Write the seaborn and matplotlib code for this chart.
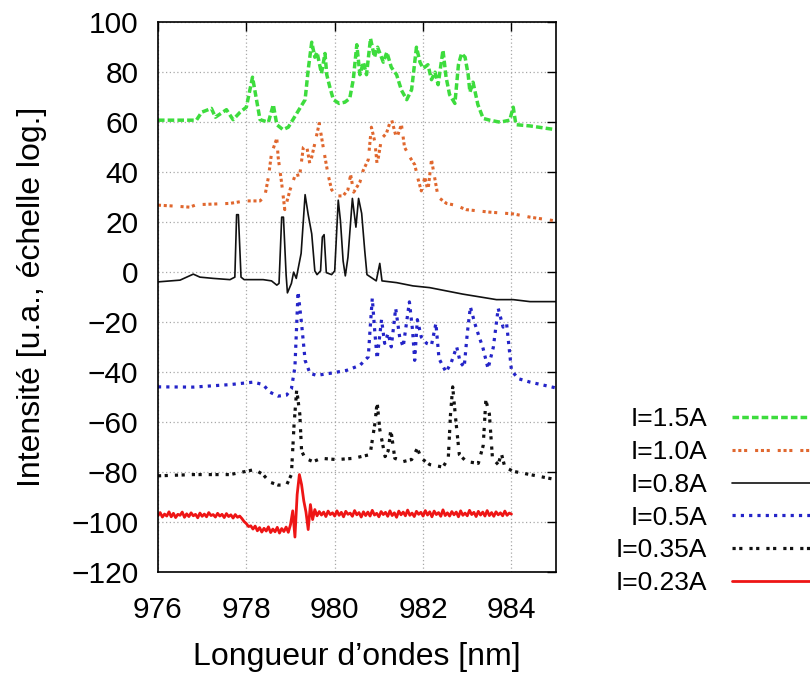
import numpy as np
import matplotlib
matplotlib.use("Agg")
import matplotlib.pyplot as plt
import seaborn as sns

# ---------------- data ----------------
labels = ["I=1.5A", "I=1.0A", "I=0.8A", "I=0.5A", "I=0.35A", "I=0.23A"]

green_x = [976.0, 976.87, 976.99, 977.21, 977.3, 977.55, 977.7, 977.86, 978.0, 978.14,
           978.22, 978.31, 978.5, 978.61, 978.69, 978.83, 978.95, 979.14, 979.33, 979.4,
           979.48, 979.55, 979.6, 979.7, 979.78, 979.82, 979.89, 979.97, 980.1, 980.23,
           980.34, 980.42, 980.5, 980.57, 980.65, 980.72, 980.81, 980.9, 980.97, 981.1,
           981.18, 981.28, 981.4, 981.51, 981.63, 981.74, 981.85, 981.93, 982.0, 982.11,
           982.19, 982.27, 982.34, 982.45, 982.52, 982.6, 982.72, 982.8, 982.87, 982.95,
           983.02, 983.06, 983.13, 983.24, 983.36, 983.51, 983.74, 983.96, 984.04, 984.1,
           984.42, 985.0]
green_y = [60.8, 60.8, 64, 65.5, 62, 65, 61, 64, 66, 78,
           70, 61, 60, 67, 59, 57, 58, 63.5, 69, 81,
           92, 86, 88, 79.5, 87.5, 79, 74, 69, 67.5, 68,
           69.5, 77, 91, 79, 84, 79, 93.5, 86, 90, 84,
           88, 82, 79, 72.8, 69, 73, 90, 84, 81.5, 83,
           77, 80, 75, 88.8, 78, 71, 67.5, 83, 87.5, 86,
           79, 72, 76, 67, 61.5, 60.8, 60, 60.8, 66, 59,
           58.5, 57]

orange_x = [976.0, 976.3, 976.72, 976.87, 977.2, 977.63, 977.97, 978.31, 978.42, 978.5,
            978.57, 978.69, 978.72, 978.8, 978.87, 978.99, 979.1, 979.21, 979.29, 979.36,
            979.44, 979.55, 979.65, 979.74, 979.85, 979.93, 980.04, 980.19, 980.3, 980.36,
            980.43, 980.57, 980.64, 980.76, 980.83, 980.91, 980.96, 981.06, 981.17, 981.28,
            981.4, 981.51, 981.58, 981.7, 981.81, 981.89, 981.96, 982.04, 982.11, 982.19,
            982.27, 982.34, 982.53, 982.72, 982.98, 983.51, 984.04, 984.42, 985.0]
orange_y = [26.8, 26.5, 26, 27, 27.2, 27.5, 28.5, 28.5, 30.5, 38,
            47.5, 53.5, 46, 35.5, 25, 33, 38.5, 39, 50, 51,
            43, 51.5, 59.5, 50, 39, 33, 30.5, 30.5, 33, 39,
            32, 36, 40.5, 45, 58, 52, 43, 53.5, 55.5, 61.5,
            53.5, 59, 50, 46, 43, 37, 32.5, 38, 32.5, 45,
            37, 30, 27.5, 26.8, 25, 24, 23.3, 22, 20.5]

black_x = [976.0, 976.5, 976.8, 976.95, 977.25, 977.63, 977.74, 977.78, 977.82, 977.88,
           977.95, 978.38, 978.57, 978.69, 978.74, 978.8, 978.84, 978.9, 978.93, 979.02,
           979.07, 979.13, 979.24, 979.33, 979.4, 979.48, 979.55, 979.6, 979.68, 979.72,
           979.76, 979.81, 979.93, 980.0, 980.08, 980.13, 980.19, 980.24, 980.3, 980.4,
           980.48, 980.54, 980.61, 980.68, 980.73, 980.94, 981.02, 981.07, 981.4, 981.77,
           982.15, 982.9, 983.66, 984.04, 984.42, 985.0]
black_y = [-3.9, -3.2, -0.8, -2, -2.5, -3, -2, 23, 23, -2,
           -3, -3, -3.5, -5.2, -4.5, 22, 22, -1, -8.3, -4.5,
           0, -2.5, 7.5, 31, 23, 15.3, 0.5, -1, 0.5, 14,
           15, -0.2, -1, 0.5, 28.8, 20.5, 4.5, -1.5, 6, 29.5,
           18, 29.5, 23.5, 8.5, -1, -3.5, 3.5, -3.5, -4.2, -5.5,
           -6.2, -8.8, -11, -11, -11.8, -11.8]

blue_x = [976.0, 976.8, 977.63, 978.16, 978.38, 978.53, 978.72, 978.91, 979.02, 979.1,
          979.17, 979.25, 979.33, 979.44, 979.59, 979.89, 980.27, 980.57, 980.76, 980.8,
          980.85, 980.91, 980.96, 981.06, 981.13, 981.21, 981.28, 981.38, 981.47, 981.55,
          981.69, 981.76, 981.81, 981.87, 981.96, 982.08, 982.19, 982.29, 982.36, 982.52,
          982.64, 982.76, 982.84, 982.93, 983.0, 983.07, 983.17, 983.27, 983.35, 983.47,
          983.59, 983.7, 983.81, 983.89, 984.0, 984.15, 984.42, 985.0]
blue_y = [-45.9, -46, -45, -44, -45, -48, -49.6, -49.2, -46.7, -37.9,
          -7.9, -20.6, -35.3, -40.5, -41.3, -40.5, -39.3, -37.3, -33.9, -23,
          -10.5, -24.5, -34.6, -19, -28.5, -24.5, -29.9, -14.5, -26, -29.9,
          -11.9, -23, -35.3, -19, -26, -28.5, -29.2, -20.5, -34.6, -40,
          -36, -29.9, -36, -38, -24.5, -13.9, -20.5, -26, -30, -38.6,
          -30, -14.5, -22, -20.6, -39.3, -42.6, -44, -46.3]

bdot_x = [976.0, 976.8, 977.63, 978.19, 978.38, 978.53, 978.72, 978.91, 979.02, 979.08,
          979.14, 979.21, 979.25, 979.33, 979.51, 979.7, 980.04, 980.42, 980.8, 980.91,
          980.96, 981.02, 981.14, 981.21, 981.27, 981.36, 981.55, 981.74, 981.87, 981.96,
          982.15, 982.45, 982.57, 982.62, 982.67, 982.74, 982.82, 982.98, 983.25, 983.36,
          983.42, 983.5, 983.57, 983.7, 983.77, 983.85, 984.04, 984.42, 985.0]
bdot_y = [-81.5, -81, -81, -79, -81, -84, -85.2, -85.2, -81, -61,
          -47, -56.8, -71.5, -74.5, -75.8, -74.5, -75, -74.5, -73, -60.5,
          -52, -63, -73.8, -71.5, -63, -74.5, -75.8, -75, -70.5, -74.5,
          -77, -78, -74.5, -57, -45.9, -59.2, -73, -75.8, -76.5, -69.4,
          -51.2, -56.8, -74.5, -77, -72.5, -78, -79.7, -81, -83]

# red spectrum: uniformly sampled from 976 to 984 nm
red_y = [-97.5, -96.2, -98.0, -96.8, -97.6, -95.9, -97.9, -96.5, -98.2, -96.9,
         -97.3, -96.0, -98.1, -96.7, -97.8, -96.3, -97.5, -96.9, -98.3, -96.4,
         -97.7, -96.8, -97.9, -96.2, -97.4, -97.0, -98.0, -96.5, -97.6, -96.9,
         -98.2, -96.6, -97.8, -97.1, -98.4, -97.0, -98.1, -97.6,
         -98.6, -99.8, -100.6, -101.8, -101.5,
         -102.8, -101.6, -103.5, -102.2, -104.0, -102.5, -103.6, -101.9, -104.2, -102.8,
         -103.9, -102.1, -104.4, -102.6, -103.8, -102.0, -104.1,
         -101.0, -95.5, -106.0, -89.0, -81.0, -85.0, -91.5, -96.0, -103.0, -93.0, -99.0, -95.0,
         -97.5, -95.8, -97.2, -96.0, -97.8, -95.6, -97.0, -96.3, -97.6, -95.5,
         -97.3, -96.1, -97.9, -95.7, -96.9, -96.4, -97.7, -95.4, -97.1, -96.2,
         -98.0, -95.9, -97.4, -96.0, -97.6, -95.3, -97.2, -96.5, -97.9, -95.8,
         -97.0, -96.1, -97.7, -95.5, -97.4, -96.3, -98.1, -95.6, -97.1, -96.0,
         -97.5, -95.2, -97.3, -96.4, -97.8, -95.7, -96.9, -96.1, -97.6, -95.4,
         -97.2, -95.9, -97.9, -95.6, -97.0, -96.2, -97.7, -95.1, -97.4, -96.3,
         -97.6, -95.8, -97.1, -96.0, -97.9, -95.5, -97.3, -96.4, -97.5, -95.3,
         -97.0, -96.1, -97.8, -95.7, -97.2, -96.0, -97.6, -95.4, -97.4, -96.2,
         -97.7, -95.9, -97.1, -96.3, -97.5, -95.6, -97.3, -96.4, -96.8]
red_x = np.linspace(976.0, 984.0, len(red_y))

x_ticks = [976, 978, 980, 982, 984]
y_ticks = list(range(-120, 101, 20))

# ---------------- style ----------------
sns.set_theme(style="white")
plt.rcParams['font.family'] = ['Liberation Sans', 'DejaVu Sans']
plt.rcParams['axes.unicode_minus'] = True
for k in ['text.color', 'axes.labelcolor', 'xtick.color', 'ytick.color']:
    plt.rcParams[k] = 'black'

fig = plt.figure(figsize=(8.1, 6.73), dpi=100)
ax = fig.add_axes([0.195, 0.150, 0.491, 0.817])

series = [
    (green_x, green_y, "#3ddc3d", 2.5, (0, (1.9, 0.9))),
    (orange_x, orange_y, "#e0672e", 2.2, (0, (1, 0.9, 1, 0.9, 1, 2.6))),
    (black_x, black_y, "#111111", 1.2, "-"),
    (blue_x, blue_y, "#2424c8", 2.3, (0, (1, 1.6))),
    (bdot_x, bdot_y, "#111111", 2.3, (0, (1, 1.1, 1, 2.2))),
    (list(red_x), red_y, "#ee1515", 2.0, "-"),
]
for lab, (xs, ys, col, lw, ls) in zip(labels, series):
    sns.lineplot(x=xs, y=ys, ax=ax, color=col, linewidth=lw, linestyle=ls,
                 label=lab, sort=False, estimator=None)

ax.set_xlim(976, 985)
ax.set_ylim(-120, 100)
ax.set_xticks(x_ticks)
ax.set_yticks(y_ticks)
ax.tick_params(direction='in', length=6.5, width=1.0, top=True, right=True,
               labelsize=21.5, colors='black')
ax.tick_params(axis='x', pad=17)
ax.tick_params(axis='y', pad=14)
ax.grid(True, color='#a8a8a8', linestyle=(0, (1, 2)), linewidth=0.9)
for sp in ax.spines.values():
    sp.set_color('black')
    sp.set_linewidth(1.2)

ax.set_xlabel("Longueur d’ondes [nm]", fontsize=23)
ax.set_ylabel("Intensité [u.a., échelle log.]", fontsize=23)
ax.xaxis.set_label_coords(0.5, -0.128)
ax.yaxis.set_label_coords(-0.28, 0.5)

leg = ax.legend(loc='lower right', bbox_to_anchor=(1.034, 0.116),
                bbox_transform=fig.transFigure, frameon=False, markerfirst=False,
                handlelength=4, handletextpad=0.95, labelspacing=0.33,
                borderpad=0, borderaxespad=0, fontsize=19)

fig.savefig("out.png", dpi=100)
